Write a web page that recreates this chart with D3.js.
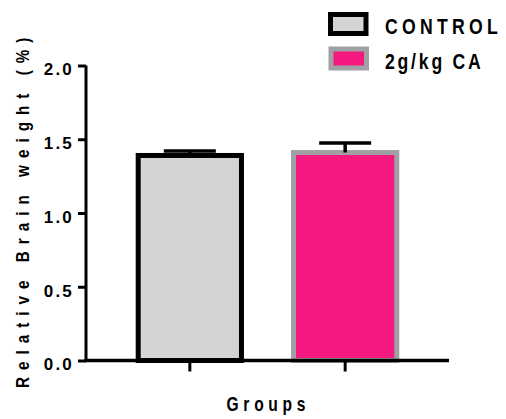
<!DOCTYPE html>
<html>
<head>
<meta charset="utf-8">
<script src="https://cdn.jsdelivr.net/npm/d3@7"></script>
<style>
  html, body { margin: 0; padding: 0; background: #fff; }
  svg { display: block; }
  text { font-family: "Liberation Sans", Arial, sans-serif; font-weight: bold; fill: #000; }
</style>
</head>
<body>
<svg id="chart" width="506" height="419"></svg>
<script>
// Group means and standard errors (relative brain weight, %)
const groups = ["CONTROL", "2g/kg CA"];
const means = [1.39, 1.41];
const sems = [0.03, 0.065];
const fills = ["#d4d4d4", "#f5187f"];
const strokes = ["#000000", "#a1a1a5"];
const yTicks = [0.0, 0.5, 1.0, 1.5, 2.0];

const svg = d3.select("#chart");
const plotLeft = 86, plotRight = 449, plotTop = 65.5, plotBottom = 360.5;

const x = d3.scaleBand().domain(groups).range([plotLeft, plotRight])
  .paddingInner(0.303).paddingOuter(0.32);
const y = d3.scaleLinear().domain([0, 2]).range([plotBottom, plotTop]);

const sw = 5;
const narrow = 0.8; // horizontal squeeze for the condensed title lettering

// bars
svg.append("g").selectAll("rect").data(groups).join("rect")
  .attr("x", d => x(d) + sw / 2)
  .attr("width", x.bandwidth() - sw)
  .attr("y", (d, i) => y(means[i]))
  .attr("height", (d, i) => y(0) - y(means[i]))
  .attr("fill", (d, i) => fills[i])
  .attr("stroke", (d, i) => strokes[i])
  .attr("stroke-width", sw);

// error bars (upper only)
const eb = svg.append("g").attr("stroke", "#000").attr("stroke-width", 3.5);
groups.forEach((g, i) => {
  const cx = x(g) + x.bandwidth() / 2;
  eb.append("line").attr("x1", cx).attr("x2", cx)
    .attr("y1", y(means[i])).attr("y2", y(means[i] + sems[i]));
  eb.append("line").attr("x1", cx - 26).attr("x2", cx + 26)
    .attr("y1", y(means[i] + sems[i])).attr("y2", y(means[i] + sems[i]));
});

// y axis
const yAxis = svg.append("g").attr("transform", `translate(${plotLeft},0)`)
  .call(d3.axisLeft(y).tickValues(yTicks).tickFormat(d3.format(".1f")).tickSize(8).tickPadding(4));
yAxis.select(".domain").attr("d", `M0,${plotTop}V${plotBottom}`).attr("stroke-width", 3);
yAxis.selectAll(".tick line").attr("stroke-width", 3);
yAxis.selectAll(".tick text").attr("font-size", 17).attr("dy", "0.55em")
  .attr("letter-spacing", 2.2)
  .style("font-family", "'Liberation Sans', Arial, sans-serif").style("font-weight", "bold");

// x axis
const xAxis = svg.append("g").attr("transform", `translate(0,${plotBottom})`)
  .call(d3.axisBottom(x).tickSize(11).tickFormat(""));
xAxis.select(".domain").attr("d", `M${plotLeft - 1.5},0H${plotRight}`).attr("stroke-width", 3.5);
xAxis.selectAll(".tick line").attr("stroke-width", 3);

// axis titles
svg.append("text")
  .attr("transform", `translate(29,388) rotate(-90) scale(${narrow},1)`)
  .attr("text-anchor", "start").attr("font-size", 19).attr("letter-spacing", 8.8)
  .text("Relative Brain weight (%)");

svg.append("text")
  .attr("transform", `translate(226.5,410.5) scale(${narrow},1)`)
  .attr("text-anchor", "start").attr("font-size", 19.5).attr("letter-spacing", 5.9)
  .text("Groups");

// legend
const legendSpacing = [5.4, 3.5];
const legend = svg.append("g");
groups.forEach((g, i) => {
  const ly = 14.5 + i * 34.5;
  legend.append("rect").attr("x", 330.5 + i * 0.5).attr("y", ly)
    .attr("width", 35.5).attr("height", 19)
    .attr("fill", fills[i]).attr("stroke", strokes[i]).attr("stroke-width", sw);
  legend.append("text")
    .attr("transform", `translate(385,${ly + 19.5}) scale(${narrow},1)`)
    .attr("font-size", 22).attr("letter-spacing", legendSpacing[i])
    .text(g);
});
</script>
</body>
</html>
